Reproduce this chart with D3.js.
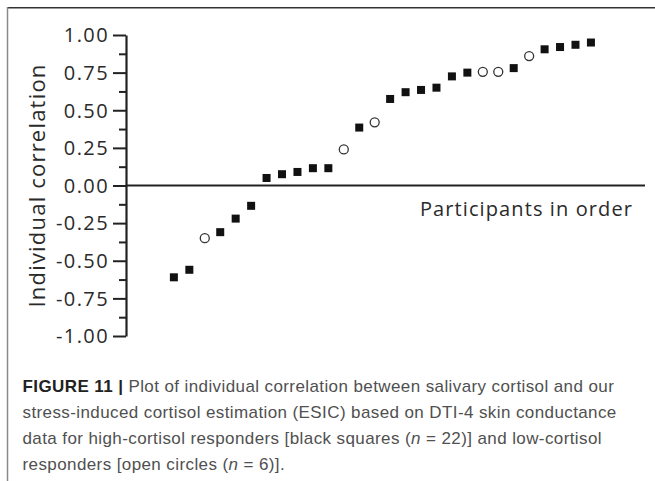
<!DOCTYPE html>
<meta charset="utf-8">
<style>
body {
    margin: 0;
    background: #fff;
}

.axis path,
.axis line {
    stroke: #222;
}

.axis text {
    font-family: "Open Sans", sans-serif;
    font-size: 20px;
    letter-spacing: 1.4px;
    fill: #2a2a2a;
}

.title {
    font-family: "Open Sans", sans-serif;
    fill: #2a2a2a;
}

.caption {
    font-family: "Liberation Sans", Arial, sans-serif;
    font-size: 17px;
    letter-spacing: 0.4px;
    fill: #505050;
}

.caption .fig {
    font-weight: 700;
    fill: #222;
}
</style>
<script src="https://cdn.jsdelivr.net/npm/d3@7"></script>
<body>
<script>
// participants are ordered by their correlation, 1..28
var participants = [1, 2, 3, 4, 5, 6, 7, 8, 9, 10, 11, 12, 13, 14,
                    15, 16, 17, 18, 19, 20, 21, 22, 23, 24, 25, 26, 27, 28];
var correlations = [-0.61, -0.56, -0.35, -0.31, -0.22, -0.135, 0.05, 0.075, 0.09, 0.115,
                    0.115, 0.24, 0.385, 0.42, 0.575, 0.62, 0.635, 0.65, 0.725, 0.75,
                    0.755, 0.755, 0.78, 0.86, 0.905, 0.92, 0.935, 0.95];
// "high" = high-cortisol responder (black square), "low" = low-cortisol (open circle)
var responders = ["high", "high", "low", "high", "high", "high", "high", "high", "high", "high",
                  "high", "low", "high", "low", "high", "high", "high", "high", "high", "high",
                  "low", "low", "high", "low", "high", "high", "high", "high"];

var yTicks = [1, 0.75, 0.5, 0.25, 0, -0.25, -0.5, -0.75, -1];
var yTickLabels = ["1.00", "0.75", "0.50", "0.25", "0.00", "-0.25", "-0.50", "-0.75", "-1.00"];
var yMinorTicks = [0.875, 0.625, 0.375, 0.125, -0.125, -0.375, -0.625, -0.875];

var captionLines = [
    [["fig", "FIGURE 11 | "], ["", "Plot of individual correlation between salivary cortisol and our"]],
    [["", "stress-induced cortisol estimation (ESIC) based on DTI-4 skin conductance"]],
    [["", "data for high-cortisol responders [black squares ("], ["it", "n"], ["", " = 22)] and low-cortisol"]],
    [["", "responders [open circles ("], ["it", "n"], ["", " = 6)]."]]
];

var width = 655, height = 481;

var svg = d3.select("body").append("svg")
    .attr("width", width)
    .attr("height", height);

// frame round the figure
svg.append("line")
    .attr("x1", 7).attr("x2", width)
    .attr("y1", 7.8).attr("y2", 7.8)
    .attr("stroke", "#333").attr("stroke-width", 1.4);
svg.append("line")
    .attr("x1", 7.5).attr("x2", 7.5)
    .attr("y1", 7).attr("y2", height)
    .attr("stroke", "#8a8a8a").attr("stroke-width", 1.5);

var x = d3.scaleLinear().domain([-2.1, 31.5]).range([126, 645]);
var y = d3.scaleLinear().domain([-1, 1]).range([336, 35]);

// minor ticks first, then the major axis on top
svg.append("g")
    .attr("class", "axis")
    .attr("transform", "translate(" + x.range()[0] + ",0)")
    .call(d3.axisLeft(y).tickValues(yMinorTicks).tickSize(7).tickFormat(""))
    .call(function(g) { g.select(".domain").remove(); })
    .selectAll("line").attr("stroke-width", 2);

var yAxis = svg.append("g")
    .attr("class", "axis")
    .attr("transform", "translate(" + x.range()[0] + ",0)")
    .call(d3.axisLeft(y)
        .tickValues(yTicks)
        .tickSize(13)
        .tickSizeOuter(0)
        .tickPadding(4)
        .tickFormat(function(d, i) { return yTickLabels[i]; }));
yAxis.select(".domain").attr("stroke-width", 2.2);
yAxis.selectAll(".tick line").attr("stroke-width", 2);
yAxis.selectAll(".tick text").attr("dy", "0.34em");

// zero line used as the x axis
svg.append("line")
    .attr("x1", x.range()[0]).attr("x2", x.range()[1])
    .attr("y1", y(0)).attr("y2", y(0))
    .attr("stroke", "#222").attr("stroke-width", 2.2);

svg.append("text")
    .attr("class", "title")
    .attr("transform", "translate(45," + y(0) + ") rotate(-90)")
    .attr("text-anchor", "middle")
    .style("font-size", "22px")
    .style("letter-spacing", "1.2px")
    .text("Individual correlation");

svg.append("text")
    .attr("class", "title")
    .attr("x", 633)
    .attr("y", 216)
    .attr("text-anchor", "end")
    .style("font-size", "20px")
    .style("letter-spacing", "1.1px")
    .text("Participants in order");

var points = participants.map(function(p, i) {
    return { p: p, r: correlations[i], group: responders[i] };
});

var sq = 8;
svg.append("g").selectAll("rect")
    .data(points.filter(function(d) { return d.group === "high"; }))
    .join("rect")
    .attr("x", function(d) { return x(d.p) - sq / 2; })
    .attr("y", function(d) { return y(d.r) - sq / 2; })
    .attr("width", sq)
    .attr("height", sq)
    .attr("fill", "#111");

svg.append("g").selectAll("circle")
    .data(points.filter(function(d) { return d.group === "low"; }))
    .join("circle")
    .attr("cx", function(d) { return x(d.p); })
    .attr("cy", function(d) { return y(d.r); })
    .attr("r", 4.5)
    .attr("fill", "#fff")
    .attr("stroke", "#333")
    .attr("stroke-width", 1.3);

// figure caption
var caption = svg.append("text")
    .attr("class", "caption");
captionLines.forEach(function(line, li) {
    line.forEach(function(part, pi) {
        var t = caption.append("tspan").text(part[1]);
        if (pi === 0) t.attr("x", 22.5).attr("y", 392 + li * 26);
        if (part[0] === "fig") t.attr("class", "fig");
        if (part[0] === "it") t.style("font-style", "italic");
    });
});
</script>
</body>
